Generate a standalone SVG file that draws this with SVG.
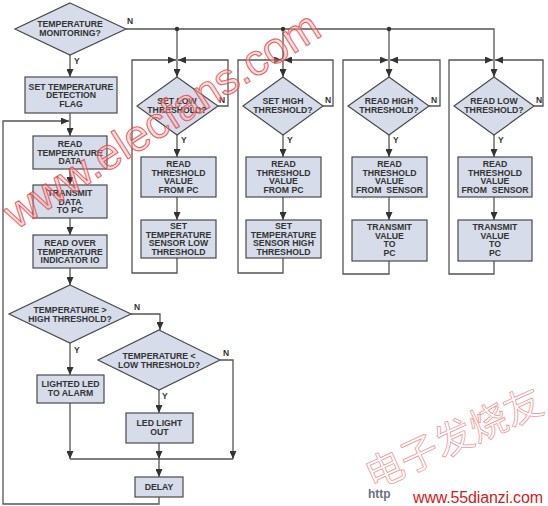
<svg xmlns="http://www.w3.org/2000/svg" width="548" height="506" viewBox="0 0 548 506">
<style>
.bx{fill:#d6dcea;stroke:#4a4a4a;stroke-width:1.2}
.t{font-family:"Liberation Sans",Arial,sans-serif;font-weight:bold;font-size:8.7px;fill:#333;text-anchor:middle}
.lb{font-family:"Liberation Sans",Arial,sans-serif;font-weight:bold;font-size:8.5px;fill:#333}
.ln{fill:none;stroke:#555;stroke-width:1.3}
.ar{marker-end:url(#ah)}
</style>
<defs>
<marker id="ah" viewBox="0 0 8 7" refX="8" refY="3.5" markerWidth="8" markerHeight="7" markerUnits="userSpaceOnUse" orient="auto">
<path d="M0,0 L8,3.5 L0,7 z" fill="#333"/>
</marker>
</defs>
<rect width="548" height="506" fill="#fff"/>

<g id="connectors">
<path class="ln" d="M126,29 H494 V77" style="marker-end:url(#ah)"/>
<path class="ln ar" d="M177,29 V77"/>
<path class="ln ar" d="M283,29 V77"/>
<path class="ln ar" d="M389,29 V77"/>
<circle cx="177" cy="29" r="2.2" fill="#333"/>
<circle cx="283" cy="29" r="2.2" fill="#333"/>
<circle cx="389" cy="29" r="2.2" fill="#333"/>
<path class="ln ar" d="M177,135 V157"/>
<path class="ln ar" d="M177,197 V220"/>
<path class="ln ar" d="M177,258 V273 H132 V60 H176"/>
<path class="ln ar" d="M218,106 H228 V60 H178"/>
<path class="ln ar" d="M283,135 V157"/>
<path class="ln ar" d="M283,197 V220"/>
<path class="ln ar" d="M283,258 V273 H238 V60 H282"/>
<path class="ln ar" d="M323,106 H333 V60 H284"/>
<path class="ln ar" d="M389,135 V157"/>
<path class="ln ar" d="M389,197 V220"/>
<path class="ln ar" d="M389,261 V274 H343 V60 H388"/>
<path class="ln ar" d="M429,106 H440 V60 H390"/>
<path class="ln ar" d="M494,135 V157"/>
<path class="ln ar" d="M494,197 V220"/>
<path class="ln ar" d="M494,261 V274 H449 V60 H493"/>
<path class="ln ar" d="M534,106 H543 V60 H495"/>
<path class="ln ar" d="M70,55 V77"/>
<path class="ln ar" d="M70,113 V136"/>
<path class="ln ar" d="M70,169 V185"/>
<path class="ln ar" d="M70,218 V235"/>
<path class="ln ar" d="M70,268 V285"/>
<path class="ln ar" d="M131,314 H160 V330"/>
<path class="ln ar" d="M70,343 V375"/>
<path class="ln ar" d="M70,403 V459"/>
<path class="ln ar" d="M159,390 V413"/>
<path class="ln ar" d="M159,443 V459"/>
<path class="ln ar" d="M220,360 H233 V459"/>
<path class="ln" d="M70,459 H233"/>
<path class="ln ar" d="M159,459 V477"/>
<path class="ln ar" d="M159,497 V504 H3 V121 H69"/>
</g>

<g id="labels">
<text class="lb" x="127" y="24">N</text>
<text class="lb" x="74" y="64">Y</text>
<text class="lb" x="219" y="103">N</text>
<text class="lb" x="181" y="143">Y</text>
<text class="lb" x="325" y="103">N</text>
<text class="lb" x="287" y="143">Y</text>
<text class="lb" x="431" y="103">N</text>
<text class="lb" x="393" y="143">Y</text>
<text class="lb" x="536" y="103">N</text>
<text class="lb" x="498" y="143">Y</text>
<text class="lb" x="134" y="310">N</text>
<text class="lb" x="74" y="353">Y</text>
<text class="lb" x="223" y="356">N</text>
<text class="lb" x="162" y="399">Y</text>
</g>

<g id="n-monitor">
<polygon class="bx" points="70,3 126,29 70,55 15,29"/>
<text class="t" x="70" y="27">TEMPERATURE</text>
<text class="t" x="70" y="36">MONITORING?</text>
</g>
<g id="n-setflag">
<rect class="bx" x="25" y="77" width="92" height="36"/>
<text class="t" x="71" y="89.5">SET TEMPERATURE</text>
<text class="t" x="71" y="98.2">DETECTION</text>
<text class="t" x="71" y="106.9">FLAG</text>
</g>
<g id="n-readtemp">
<rect class="bx" x="33" y="136" width="74" height="33"/>
<text class="t" x="70" y="146.8">READ</text>
<text class="t" x="70" y="155.5">TEMPERATURE</text>
<text class="t" x="70" y="164.2">DATA</text>
</g>
<g id="n-transmit">
<rect class="bx" x="33" y="185" width="74" height="33"/>
<text class="t" x="70" y="195.8">TRANSMIT</text>
<text class="t" x="70" y="204.5">DATA</text>
<text class="t" x="70" y="213.2">TO PC</text>
</g>
<g id="n-readover">
<rect class="bx" x="33" y="235" width="74" height="33"/>
<text class="t" x="70" y="245.8">READ OVER</text>
<text class="t" x="70" y="254.5">TEMPERATURE</text>
<text class="t" x="70" y="263.2">INDICATOR IO</text>
</g>
<g id="n-highcheck">
<polygon class="bx" points="70,285 131,314 70,343 9,314"/>
<text class="t" x="70" y="312.5">TEMPERATURE &gt;</text>
<text class="t" x="70" y="321.5">HIGH THRESHOLD?</text>
</g>
<g id="n-lowcheck">
<polygon class="bx" points="159,330 220,360 159,390 98,360"/>
<text class="t" x="159" y="358.5">TEMPERATURE &lt;</text>
<text class="t" x="159" y="367.5">LOW THRESHOLD?</text>
</g>
<g id="n-lighted">
<rect class="bx" x="37" y="375" width="67" height="28"/>
<text class="t" x="70.5" y="387">LIGHTED LED</text>
<text class="t" x="70.5" y="396">TO ALARM</text>
</g>
<g id="n-ledout">
<rect class="bx" x="126" y="413" width="67" height="30"/>
<text class="t" x="159.5" y="426">LED LIGHT</text>
<text class="t" x="159.5" y="435">OUT</text>
</g>
<g id="n-delay">
<rect class="bx" x="135" y="477" width="48" height="20"/>
<text class="t" x="159" y="490">DELAY</text>
</g>

<g id="n-setlow">
<polygon class="bx" points="177,77 218,106 177,135 137,106"/>
<text class="t" x="177" y="104">SET LOW</text>
<text class="t" x="177" y="113">THRESHOLD?</text>
</g>
<g id="n-readpc1">
<rect class="bx" x="141" y="157" width="75" height="40"/>
<text class="t" x="178.5" y="167">READ</text>
<text class="t" x="178.5" y="175.7">THRESHOLD</text>
<text class="t" x="178.5" y="184.4">VALUE</text>
<text class="t" x="178.5" y="193.1">FROM PC</text>
</g>
<g id="n-setsenlow">
<rect class="bx" x="141" y="220" width="75" height="38"/>
<text class="t" x="178.5" y="229">SET</text>
<text class="t" x="178.5" y="237.7">TEMPERATURE</text>
<text class="t" x="178.5" y="246.4">SENSOR LOW</text>
<text class="t" x="178.5" y="255.1">THRESHOLD</text>
</g>

<g id="n-sethigh">
<polygon class="bx" points="283,77 323,106 283,135 243,106"/>
<text class="t" x="283" y="104">SET HIGH</text>
<text class="t" x="283" y="113">THRESHOLD?</text>
</g>
<g id="n-readpc2">
<rect class="bx" x="246" y="157" width="75" height="40"/>
<text class="t" x="283.5" y="167">READ</text>
<text class="t" x="283.5" y="175.7">THRESHOLD</text>
<text class="t" x="283.5" y="184.4">VALUE</text>
<text class="t" x="283.5" y="193.1">FROM PC</text>
</g>
<g id="n-setsenhigh">
<rect class="bx" x="246" y="220" width="75" height="38"/>
<text class="t" x="283.5" y="229">SET</text>
<text class="t" x="283.5" y="237.7">TEMPERATURE</text>
<text class="t" x="283.5" y="246.4">SENSOR HIGH</text>
<text class="t" x="283.5" y="255.1">THRESHOLD</text>
</g>

<g id="n-readhigh">
<polygon class="bx" points="389,77 429,106 389,135 348,106"/>
<text class="t" x="389" y="104">READ HIGH</text>
<text class="t" x="389" y="113">THRESHOLD?</text>
</g>
<g id="n-readsen1">
<rect class="bx" x="352" y="157" width="75" height="40"/>
<text class="t" x="389.5" y="167">READ</text>
<text class="t" x="389.5" y="175.7">THRESHOLD</text>
<text class="t" x="389.5" y="184.4">VALUE</text>
<text class="t" x="389.5" y="193.1" xml:space="preserve">FROM  SENSOR</text>
</g>
<g id="n-tx1">
<rect class="bx" x="352" y="220" width="75" height="41"/>
<text class="t" x="389.5" y="230">TRANSMIT</text>
<text class="t" x="389.5" y="238.7">VALUE</text>
<text class="t" x="389.5" y="247.4">TO</text>
<text class="t" x="389.5" y="256.1">PC</text>
</g>

<g id="n-readlow">
<polygon class="bx" points="494,77 534,106 494,135 454,106"/>
<text class="t" x="494" y="104">READ LOW</text>
<text class="t" x="494" y="113">THRESHOLD?</text>
</g>
<g id="n-readsen2">
<rect class="bx" x="458" y="157" width="74" height="40"/>
<text class="t" x="495" y="167">READ</text>
<text class="t" x="495" y="175.7">THRESHOLD</text>
<text class="t" x="495" y="184.4">VALUE</text>
<text class="t" x="495" y="193.1" xml:space="preserve">FROM  SENSOR</text>
</g>
<g id="n-tx2">
<rect class="bx" x="458" y="220" width="74" height="41"/>
<text class="t" x="495" y="230">TRANSMIT</text>
<text class="t" x="495" y="238.7">VALUE</text>
<text class="t" x="495" y="247.4">TO</text>
<text class="t" x="495" y="256.1">PC</text>
</g>

<g id="watermarks">
<text x="0" y="0" transform="translate(16,230) rotate(-32.4)" font-family="'Liberation Sans',Arial,sans-serif" font-size="44" fill="#f6b4b4" fill-opacity="0.45" stroke="#e23a3a" stroke-width="1.1" stroke-opacity="0.75">www.elecfans.com</text>
<text x="0" y="0" transform="translate(373,490) rotate(-24.5)" font-family="'Noto Sans CJK SC',sans-serif" font-size="38" fill="none" stroke="#e99" stroke-width="0.8">电子发烧友</text>
<text x="368" y="498" font-family="'Liberation Sans',Arial,sans-serif" font-weight="bold" font-size="12" fill="#6a7080">http</text>
<text x="413" y="503" font-family="'Liberation Sans',Arial,sans-serif" font-size="16" fill="#d42020" textLength="130">www.55dianzi.com</text>
</g>
</svg>
